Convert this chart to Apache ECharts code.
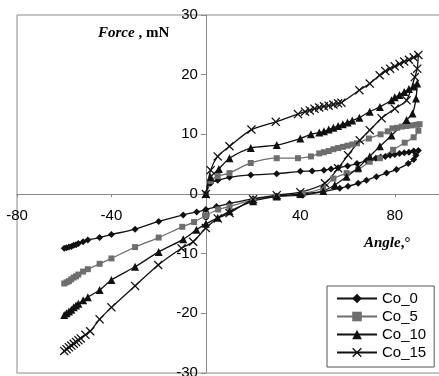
<!DOCTYPE html>
<html>
<head>
<meta charset="utf-8">
<script src="https://cdn.jsdelivr.net/npm/echarts@6/dist/echarts.min.js"></script>
<style>html,body{margin:0;padding:0;background:#fff;}#c{width:439px;height:376px;}</style>
</head>
<body>
<div id="c"></div>
<script>
// ---- data ----
var xTicks = [-80, -40, 0, 40, 80];
var yTicks = [-30, -20, -10, 0, 10, 20, 30];
var seriesNames = ['Co_0', 'Co_5', 'Co_10', 'Co_15'];

var co0Angle = [0,2,5,10,19,30,40,45,50,53,56,60,64,68,72,74,76,78,80,82,84,86,88,90,
  89,88,85.7,80.7,76.5,72.2,68,64.5,60.2,56.7,49.7,41,30,20,10,4.5,0,-3.9,-9.6,-20,-30,-40,-45,-50,-52,-54,-55,-56,-57,-58,-59,-60];
var co0Force = [0,1.8,2.3,2.8,3.2,3.4,3.8,3.85,4.0,4.2,4.4,4.7,5.1,5.6,6.0,6.2,6.3,6.5,6.6,6.8,6.9,7.0,7.2,7.3,
  6.5,5.8,5.1,4.1,3.5,2.9,2.3,1.8,1.3,0.95,0.4,-0.2,-0.4,-0.8,-1.6,-2.1,-2.6,-3.0,-3.5,-4.6,-5.9,-6.8,-7.3,-7.7,-8.0,-8.3,-8.5,-8.6,-8.8,-8.9,-9.0,-9.1];

var co5Angle = [0,2,5,10,19,30,39,44.5,48,50,52,54,56,58,60,62,64,69,74,77,79,81,83,85,87,89,90.5,
  90,88,84.2,79.3,73.7,69.4,64.5,59.6,54,49.7,41,30,20,10,5.2,0,-5,-10,-20,-30,-40,-45,-50,-52,-54,-55,-56,-57,-58,-59,-60];
var co5Force = [0,2.2,3.0,3.5,5.2,6.0,6.0,6.3,6.8,7.0,7.2,7.5,7.7,7.9,8.1,8.3,8.5,9.3,10.0,10.5,11.0,11.1,11.3,11.4,11.5,11.6,11.7,
  10.6,9.5,8.6,7.4,6.0,5.4,4.1,3.5,2.6,1.0,0.1,-0.4,-1.0,-2.1,-2.6,-3.6,-4.7,-5.5,-7.3,-8.9,-10.8,-11.7,-12.6,-13.0,-13.5,-13.8,-14.0,-14.3,-14.6,-14.8,-15.0];

var co10Angle = [0,2,5.5,10,19,30,40,44.5,48,50,52,54,56,58,60,62,65,69.4,73.7,78.6,80,82,84,86,88,89.5,
  89,87.5,85,78.6,73.7,69.4,64.5,59.6,54.6,49.7,40,30,20,10,5,0,-4,-9.6,-20,-30,-40,-45,-50,-52,-54,-55,-56,-57,-58,-59,-60];
var co10Force = [0,2.8,4.2,6.0,7.7,8.2,9.3,10.0,10.3,10.5,10.8,11.1,11.4,11.7,12.0,12.3,12.8,13.8,14.6,15.7,16.2,16.6,17.1,17.6,18.0,18.5,
  16.0,13.5,12.4,9.8,8.0,6.3,4.4,2.9,1.5,0.5,0,-0.4,-1.2,-2.9,-4.0,-5.0,-6.0,-7.6,-9.7,-12.2,-14.4,-16.1,-17.3,-17.8,-18.4,-18.7,-19.0,-19.4,-19.7,-20.0,-20.3];

var co15Angle = [0,2,5,10,19.3,29.6,39,42,44,46,48,50,52,54,56,57.4,65,69.4,73.6,76,78,80,82,84,86,88,90,
  89.5,88.5,85,80,74.4,69.4,65.2,60.2,56,50.4,40,30,20,10,5,0,-5.4,-10.3,-20.2,-30,-40,-45,-49,-51,-53,-54,-55,-56,-57,-58,-59,-60];
var co15Force = [0,4,6.3,8.0,10.8,12.1,13.4,13.8,14.0,14.3,14.5,14.7,14.8,15.0,15.2,15.3,17.4,18.5,19.9,20.6,21.0,21.4,21.8,22.2,22.5,22.9,23.3,
  21,19.6,15.7,14.3,12.7,10.7,9.0,6.5,4.3,1.8,0.3,-0.2,-0.9,-3.2,-4.1,-5.7,-8.0,-9.1,-11.9,-15.4,-19.0,-21.0,-23.0,-23.6,-24.2,-24.5,-24.8,-25.1,-25.4,-25.7,-26.0,-26.3];

function pairs(xs, ys) { return xs.map(function (x, i) { return [x, ys[i]]; }); }

var xMark = 'path://M0,1 L1,0 L5,4 L9,0 L10,1 L6,5 L10,9 L9,10 L5,6 L1,10 L0,9 L4,5 Z';
var styles = [
  { color: '#111111', symbol: 'diamond', size: 7 },
  { color: '#6e6e6e', symbol: 'rect', size: 6 },
  { color: '#111111', symbol: 'triangle', size: 8 },
  { color: '#111111', symbol: xMark, size: 9 }
];
var dataSets = [pairs(co0Angle, co0Force), pairs(co5Angle, co5Force), pairs(co10Angle, co10Force), pairs(co15Angle, co15Force)];

var chart = echarts.init(document.getElementById('c'), null, { renderer: 'canvas' });
var font = 'Arial, "Liberation Sans", sans-serif';
var serif = '"Times New Roman", "Liberation Serif", serif';
var G = { left: 17, top: 15, width: 425, height: 358 };

chart.setOption({
  animation: false,
  backgroundColor: '#ffffff',
  grid: { left: G.left, top: G.top, width: G.width, height: G.height, containLabel: false, outerBoundsMode: 'none',
    show: true, borderColor: '#8a8a8a', borderWidth: 1, backgroundColor: 'transparent' },
  xAxis: {
    type: 'value', min: xTicks[0], max: 100, interval: 40,
    axisLine: { onZero: false, lineStyle: { color: '#8a8a8a', width: 1 } },
    axisTick: { show: true, length: 3, lineStyle: { color: '#8a8a8a' } },
    axisLabel: { margin: 14, color: '#000', fontSize: 15, fontFamily: font, showMaxLabel: false },
    splitLine: { show: false }
  },
  yAxis: {
    type: 'value', min: yTicks[0], max: yTicks[yTicks.length - 1], interval: 10,
    axisLine: { onZero: false, lineStyle: { color: '#8a8a8a', width: 1 } },
    axisTick: { show: true, length: 5, lineStyle: { color: '#8a8a8a' } },
    axisLabel: { margin: 8, color: '#000', fontSize: 15, fontFamily: font },
    splitLine: { show: false }
  },
  legend: {
    orient: 'vertical', left: 327, top: 286,
    padding: [5, 8, 7, 9], itemGap: 3, itemWidth: 40, itemHeight: 12,
    backgroundColor: '#fff', borderColor: '#555', borderWidth: 1,
    textStyle: { fontSize: 15, fontFamily: font, color: '#000' },
    data: seriesNames
  },
  graphic: [
    { type: 'text', left: 98, top: 26, z: 10,
      style: { text: '{a|Force}{b| , mN}', rich: {
        a: { fontFamily: serif, fontStyle: 'italic', fontWeight: 'bold', fontSize: 15, fill: '#000' },
        b: { fontFamily: serif, fontWeight: 'bold', fontSize: 15, fill: '#000' } } } },
    { type: 'text', left: 364, top: 236, z: 10,
      style: { text: '{a|Angle}{b|,°}', rich: {
        a: { fontFamily: serif, fontStyle: 'italic', fontWeight: 'bold', fontSize: 15, fill: '#000' },
        b: { fontFamily: serif, fontWeight: 'bold', fontSize: 15, fill: '#000' } } } }
  ],
  series: seriesNames.map(function (name, i) {
    var s = styles[i];
    return {
      name: name, type: 'line', data: dataSets[i],
      smooth: 0.25, showAllSymbol: true,
      symbol: s.symbol, symbolSize: s.size,
      lineStyle: { color: s.color, width: 1.3 },
      itemStyle: { color: s.color, borderWidth: 0 },
      emphasis: { disabled: true }
    };
  })
});

// move both axes (line, ticks, labels) onto the origin, using the library's own scales
var origin = chart.convertToPixel({ gridIndex: 0 }, [0, 0]);
var corner = chart.convertToPixel({ gridIndex: 0 }, [xTicks[0], yTicks[0]]);
chart.setOption({
  xAxis: { offset: -(corner[1] - origin[1]) },
  yAxis: { offset: -(origin[0] - corner[0]) }
});
</script>
</body>
</html>
